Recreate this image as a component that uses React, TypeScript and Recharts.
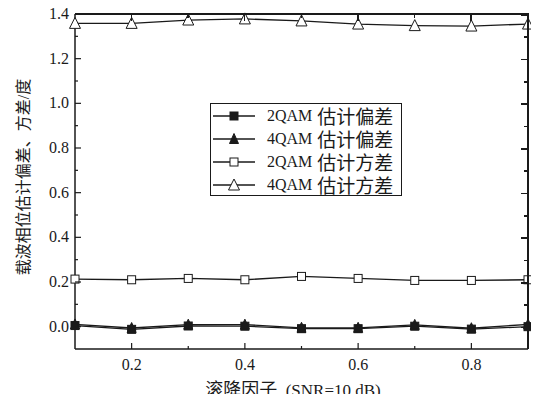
import React from 'react'
import { LineChart, Line, XAxis, YAxis } from 'recharts'

const ROLLOFF = [0.1, 0.2, 0.3, 0.4, 0.5, 0.6, 0.7, 0.8, 0.9]
const BIAS_2QAM = [0.005, -0.012, 0.003, 0.002, -0.009, -0.009, 0.002, -0.011, 0.0]
const BIAS_4QAM = [0.01, -0.006, 0.009, 0.009, -0.005, -0.005, 0.008, -0.007, 0.01]
const VAR_2QAM = [0.213, 0.21, 0.216, 0.21, 0.225, 0.216, 0.207, 0.207, 0.21]
const VAR_4QAM = [1.358, 1.358, 1.373, 1.378, 1.369, 1.355, 1.348, 1.346, 1.355]

const Y_TICKS = [0, 0.1, 0.2, 0.3, 0.4, 0.5, 0.6, 0.7, 0.8, 0.9, 1.0, 1.1, 1.2, 1.3, 1.4]
const X_TICKS = [0.2, 0.3, 0.4, 0.5, 0.6, 0.7, 0.8]
const X_DOMAIN = [0.1, 0.9]
const Y_DOMAIN = [-0.1, 1.4]

const SERIES = [
  { key: 'bias2', qam: '2QAM', label: '估计偏差', marker: 'square', filled: true },
  { key: 'bias4', qam: '4QAM', label: '估计偏差', marker: 'triangle', filled: true },
  { key: 'var2', qam: '2QAM', label: '估计方差', marker: 'square', filled: false },
  { key: 'var4', qam: '4QAM', label: '估计方差', marker: 'triangle', filled: false },
]

const data = ROLLOFF.map((r, i) => ({
  r,
  bias2: BIAS_2QAM[i],
  bias4: BIAS_4QAM[i],
  var2: VAR_2QAM[i],
  var4: VAR_4QAM[i],
}))

const FONT = '"Liberation Serif", "Noto Sans CJK SC", serif'
const INK = '#1a1a1a'
const W = 539
const H = 402
const MARGIN = { top: 14, right: 11, bottom: 23, left: 15 }
const Y_AXIS_W = 60
const X_AXIS_H = 30

const isMajor = (v: number) => Math.round(v * 10) % 2 === 0

function Marker({ cx, cy, marker, filled }: any) {
  if (cx == null || cy == null) return null
  const fill = filled ? INK : '#fff'
  if (marker === 'square') {
    const s = 8
    return <rect x={cx - s / 2} y={cy - s / 2} width={s} height={s} fill={fill} stroke={INK} strokeWidth={1} />
  }
  const h = filled ? 9 : 10
  const w = filled ? 9 : 11
  return (
    <path
      d={`M${cx},${cy - h / 2 - 1} L${cx + w / 2},${cy + h / 2} L${cx - w / 2},${cy + h / 2} Z`}
      fill={fill}
      stroke={INK}
      strokeWidth={1}
    />
  )
}

function LeftTick({ x, y, payload }: any) {
  const major = isMajor(payload.value)
  return (
    <g>
      <line x1={x} x2={x + (major ? 6 : 3)} y1={y} y2={y} stroke={INK} strokeWidth={1.2} />
      {major && (
        <text x={x - 6} y={y} dy={5} textAnchor="end" fontSize={16} fontFamily={FONT} fill={INK}>
          {payload.value.toFixed(1)}
        </text>
      )}
    </g>
  )
}

function BottomTick({ x, y, payload }: any) {
  const major = isMajor(payload.value)
  return (
    <g>
      <line x1={x} x2={x} y1={y} y2={y - (major ? 6 : 3)} stroke={INK} strokeWidth={1.2} />
      {major && (
        <text x={x} y={y} dy={21} textAnchor="middle" fontSize={16} fontFamily={FONT} fill={INK}>
          {payload.value.toFixed(1)}
        </text>
      )}
    </g>
  )
}

function LegendBox() {
  return (
    <div
      style={{
        position: 'absolute',
        left: 210,
        top: 103,
        width: 192,
        height: 93,
        boxSizing: 'border-box',
        border: `1px solid ${INK}`,
        background: '#fff',
        padding: '0 0 0 1px',
        fontFamily: FONT,
        fontSize: 16,
        color: INK,
        zIndex: 3,
      }}
    >
      {SERIES.map((s) => (
        <div key={s.key} style={{ display: 'flex', alignItems: 'center', height: 23 }}>
          <svg width={44} height={16} style={{ marginRight: 11 }}>
            <line x1={1} x2={43} y1={8} y2={8} stroke={INK} strokeWidth={1.5} />
            <Marker cx={22} cy={8} marker={s.marker} filled={s.filled} />
          </svg>
          <span>{s.qam}</span>
          <span style={{ fontSize: 19, marginLeft: 5 }}>{s.label}</span>
        </div>
      ))}
    </div>
  )
}

// mirrored top/right frame with inward ticks
function Frame() {
  const left = MARGIN.left + Y_AXIS_W
  const right = W - MARGIN.right
  const top = MARGIN.top
  const bottom = H - MARGIN.bottom - X_AXIS_H
  const sx = (v: number) => ((v - X_DOMAIN[0]) / (X_DOMAIN[1] - X_DOMAIN[0])) * (right - left)
  const sy = (v: number) => bottom - top - ((v - Y_DOMAIN[0]) / (Y_DOMAIN[1] - Y_DOMAIN[0])) * (bottom - top)
  return (
    <div
      style={{
        position: 'absolute',
        left,
        top: top - 1,
        width: right - left + 1,
        height: bottom - top + 1,
        borderTop: `2px solid ${INK}`,
        borderRight: `2px solid ${INK}`,
        boxSizing: 'border-box',
        zIndex: 2,
        pointerEvents: 'none',
      }}
    >
      {X_TICKS.map((t) => (
        <div
          key={`t${t}`}
          style={{ position: 'absolute', left: sx(t) - 1, top: 0, width: 1.5, height: isMajor(t) ? 6 : 3, background: INK }}
        />
      ))}
      {Y_TICKS.map((t) => (
        <div
          key={`r${t}`}
          style={{ position: 'absolute', right: 0, top: sy(t) - 1, height: 1.5, width: isMajor(t) ? 6 : 3, background: INK }}
        />
      ))}
    </div>
  )
}

export default function App() {
  return (
    <div style={{ position: 'relative', margin: -8, width: W, height: H, background: '#fff', overflow: 'hidden' }}>
      <LineChart width={W} height={H} data={data} margin={MARGIN}>
        <XAxis
          dataKey="r"
          type="number"
          domain={X_DOMAIN}
          ticks={X_TICKS}
          interval={0}
          height={X_AXIS_H}
          tickSize={0}
          tickMargin={0}
          tickLine={false}
          axisLine={{ stroke: INK, strokeWidth: 1.5 }}
          tick={<BottomTick />}
        />
        <YAxis
          type="number"
          domain={Y_DOMAIN}
          ticks={Y_TICKS}
          interval={0}
          width={Y_AXIS_W}
          tickSize={0}
          tickMargin={0}
          tickLine={false}
          axisLine={{ stroke: INK, strokeWidth: 1.5 }}
          tick={<LeftTick />}
        />
        {SERIES.map((s) => (
          <Line
            key={s.key}
            dataKey={s.key}
            name={`${s.qam} ${s.label}`}
            type="linear"
            stroke={INK}
            strokeWidth={1.3}
            isAnimationActive={false}
            dot={(p: any) => <Marker key={`${s.key}-${p.index}`} cx={p.cx} cy={p.cy} marker={s.marker} filled={s.filled} />}
          />
        ))}
      </LineChart>
      <Frame />
      <LegendBox />
      <div
        style={{
          position: 'absolute',
          left: 293,
          top: 388,
          transform: 'translate(-50%, -50%)',
          fontFamily: FONT,
          fontSize: 17,
          color: INK,
          whiteSpace: 'pre',
        }}
      >
        <span style={{ fontSize: 18 }}>滚降因子</span>{'  (SNR=10 dB)'}
      </div>
      <div
        style={{
          position: 'absolute',
          left: 22,
          top: 177,
          transform: 'translate(-50%, -50%) rotate(-90deg)',
          fontFamily: FONT,
          fontSize: 16,
          color: INK,
          whiteSpace: 'nowrap',
        }}
      >
        载波相位估计偏差、方差/度
      </div>
    </div>
  )
}
